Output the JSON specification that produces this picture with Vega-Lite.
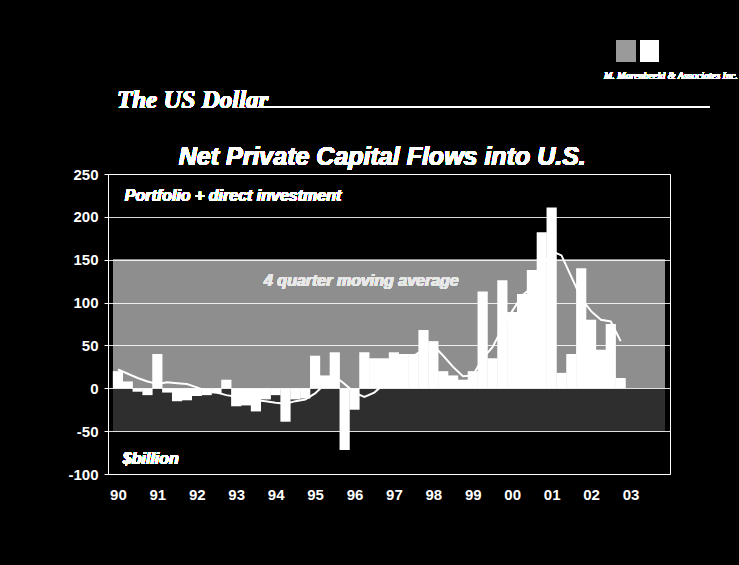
{
  "$schema": "https://vega.github.io/schema/vega-lite/v6.json",
  "autosize": "none",
  "width": 562,
  "height": 300,
  "padding": {"left": 108, "top": 174, "right": 69, "bottom": 91},
  "background": "#000000",
  "config": {
    "view": {"stroke": "#ffffff", "strokeWidth": 1},
    "axis": {"domain": false, "labelColor": "#ffffff", "labelFont": "Liberation Sans", "labelFontWeight": "bold", "labelFontSize": 15, "title": null}
  },
  "data": {"values": [
    {"t": 1990.125, "v": 20, "ma": 22}, {"t": 1990.375, "v": 8, "ma": 17}, {"t": 1990.625, "v": -4, "ma": 12}, {"t": 1990.875, "v": -8, "ma": 8},
    {"t": 1991.125, "v": 40, "ma": 5}, {"t": 1991.375, "v": -5, "ma": 7}, {"t": 1991.625, "v": -15, "ma": 6}, {"t": 1991.875, "v": -14, "ma": 5},
    {"t": 1992.125, "v": -9, "ma": 1}, {"t": 1992.375, "v": -8, "ma": -3}, {"t": 1992.625, "v": -6, "ma": -5}, {"t": 1992.875, "v": 10, "ma": -8},
    {"t": 1993.125, "v": -21, "ma": -10}, {"t": 1993.375, "v": -20, "ma": -12}, {"t": 1993.625, "v": -27, "ma": -14}, {"t": 1993.875, "v": -13, "ma": -15},
    {"t": 1994.125, "v": -8, "ma": -17}, {"t": 1994.375, "v": -39, "ma": -18}, {"t": 1994.625, "v": -13, "ma": -15}, {"t": 1994.875, "v": -12, "ma": -13},
    {"t": 1995.125, "v": 38, "ma": -6}, {"t": 1995.375, "v": 15, "ma": 5}, {"t": 1995.625, "v": 42, "ma": 14}, {"t": 1995.875, "v": -72, "ma": 5},
    {"t": 1996.125, "v": -25, "ma": -5}, {"t": 1996.375, "v": 42, "ma": -10}, {"t": 1996.625, "v": 35, "ma": -5}, {"t": 1996.875, "v": 35, "ma": 5},
    {"t": 1997.125, "v": 42, "ma": 20}, {"t": 1997.375, "v": 40, "ma": 30}, {"t": 1997.625, "v": 40, "ma": 38}, {"t": 1997.875, "v": 68, "ma": 45},
    {"t": 1998.125, "v": 55, "ma": 50}, {"t": 1998.375, "v": 20, "ma": 38}, {"t": 1998.625, "v": 15, "ma": 25}, {"t": 1998.875, "v": 10, "ma": 14},
    {"t": 1999.125, "v": 20, "ma": 15}, {"t": 1999.375, "v": 113, "ma": 35}, {"t": 1999.625, "v": 35, "ma": 48}, {"t": 1999.875, "v": 126, "ma": 70},
    {"t": 2000.125, "v": 89, "ma": 90}, {"t": 2000.375, "v": 110, "ma": 108}, {"t": 2000.625, "v": 138, "ma": 118}, {"t": 2000.875, "v": 182, "ma": 140},
    {"t": 2001.125, "v": 211, "ma": 160}, {"t": 2001.375, "v": 18, "ma": 155}, {"t": 2001.625, "v": 40, "ma": 130}, {"t": 2001.875, "v": 140, "ma": 105},
    {"t": 2002.125, "v": 80, "ma": 90}, {"t": 2002.375, "v": 45, "ma": 80}, {"t": 2002.625, "v": 75, "ma": 78}, {"t": 2002.875, "v": 12, "ma": 55}
  ]},
  "layer": [
    {
      "mark": {"type": "rect", "fill": "#8e8e8e"},
      "encoding": {"x": {"datum": 1990, "type": "quantitative"}, "x2": {"datum": 2004}, "y": {"datum": 150, "type": "quantitative"}, "y2": {"datum": 0}}
    },
    {
      "mark": {"type": "rect", "fill": "#2e2e2e"},
      "encoding": {"x": {"datum": 1990, "type": "quantitative"}, "x2": {"datum": 2004}, "y": {"datum": 0, "type": "quantitative"}, "y2": {"datum": -50}}
    },
    {
      "mark": {"type": "bar", "color": "#ffffff", "width": 10.2},
      "encoding": {
        "x": {"field": "t", "type": "quantitative", "scale": {"domain": [1990, 2004], "nice": false, "zero": false},
              "axis": {"values": [1990.125, 1991.125, 1992.125, 1993.125, 1994.125, 1995.125, 1996.125, 1997.125, 1998.125, 1999.125, 2000.125, 2001.125, 2002.125, 2003.125],
                       "labelExpr": "substring(toString(floor(datum.value)), 2)", "ticks": false, "grid": false, "labelPadding": 13, "labelFlush": false, "labelOverlap": false}},
        "y": {"field": "v", "type": "quantitative", "scale": {"domain": [-100, 250], "nice": false},
              "axis": {"values": [-100, -50, 0, 50, 100, 150, 200, 250], "labelExpr": "toString(datum.value)", "grid": true, "gridColor": "#ffffff", "gridWidth": 1, "gridOpacity": 0.85, "ticks": true, "tickColor": "#ffffff", "tickSize": 4, "labelPadding": 6, "zindex": 1}}
      }
    },
    {
      "mark": {"type": "line", "color": "#ffffff", "strokeWidth": 2},
      "encoding": {"x": {"field": "t", "type": "quantitative"}, "y": {"field": "ma", "type": "quantitative"}}
    },
    {
      "mark": {"type": "text", "text": "Net Private Capital Flows into U.S.", "align": "center", "baseline": "middle", "font": "Liberation Sans", "fontSize": 25, "fontWeight": "bold", "fontStyle": "italic", "color": "#ffffff", "clip": false},
      "encoding": {"x": {"datum": 1996.83, "type": "quantitative"}, "y": {"datum": 270, "type": "quantitative"}}
    },
    {
      "mark": {"type": "text", "text": "Portfolio + direct investment", "align": "left", "baseline": "middle", "font": "Liberation Sans", "fontSize": 16, "fontWeight": "bold", "fontStyle": "italic", "color": "#ffffff"},
      "encoding": {"x": {"datum": 1990.3, "type": "quantitative"}, "y": {"datum": 224, "type": "quantitative"}}
    },
    {
      "mark": {"type": "text", "text": "$billion", "align": "left", "baseline": "middle", "font": "Liberation Sans", "fontSize": 16, "fontWeight": "bold", "fontStyle": "italic", "color": "#ffffff"},
      "encoding": {"x": {"datum": 1990.25, "type": "quantitative"}, "y": {"datum": -82, "type": "quantitative"}}
    },
    {
      "mark": {"type": "text", "text": "4 quarter moving average", "align": "center", "baseline": "middle", "font": "Liberation Sans", "fontSize": 16, "fontWeight": "bold", "fontStyle": "italic", "color": "#e8e8e8"},
      "encoding": {"x": {"datum": 1996.3, "type": "quantitative"}, "y": {"datum": 125, "type": "quantitative"}}
    },
    {
      "mark": {"type": "text", "text": "The US Dollar", "align": "left", "baseline": "alphabetic", "font": "Liberation Serif", "fontSize": 25, "fontWeight": "bold", "fontStyle": "italic", "color": "#ffffff", "clip": false},
      "encoding": {"x": {"datum": 1990.1, "type": "quantitative"}, "y": {"datum": 327, "type": "quantitative"}}
    },
    {
      "mark": {"type": "rule", "color": "#ffffff", "strokeWidth": 1.5, "clip": false},
      "encoding": {"x": {"datum": 1993.69, "type": "quantitative"}, "x2": {"datum": 2005.12}, "y": {"datum": 328, "type": "quantitative"}}
    },
    {
      "mark": {"type": "rect", "fill": "#9a9a9a", "clip": false},
      "encoding": {"x": {"datum": 2002.76, "type": "quantitative"}, "x2": {"datum": 2003.25}, "y": {"datum": 406, "type": "quantitative"}, "y2": {"datum": 381}}
    },
    {
      "mark": {"type": "rect", "fill": "#ffffff", "clip": false},
      "encoding": {"x": {"datum": 2003.38, "type": "quantitative"}, "x2": {"datum": 2003.83}, "y": {"datum": 406, "type": "quantitative"}, "y2": {"datum": 381}}
    },
    {
      "mark": {"type": "text", "text": "M. Marenbeeld & Associates Inc.", "align": "center", "baseline": "alphabetic", "font": "Liberation Serif", "fontSize": 10, "fontStyle": "italic", "color": "#ffffff", "clip": false},
      "encoding": {"x": {"datum": 2004.15, "type": "quantitative"}, "y": {"datum": 361, "type": "quantitative"}}
    }
  ]
}
